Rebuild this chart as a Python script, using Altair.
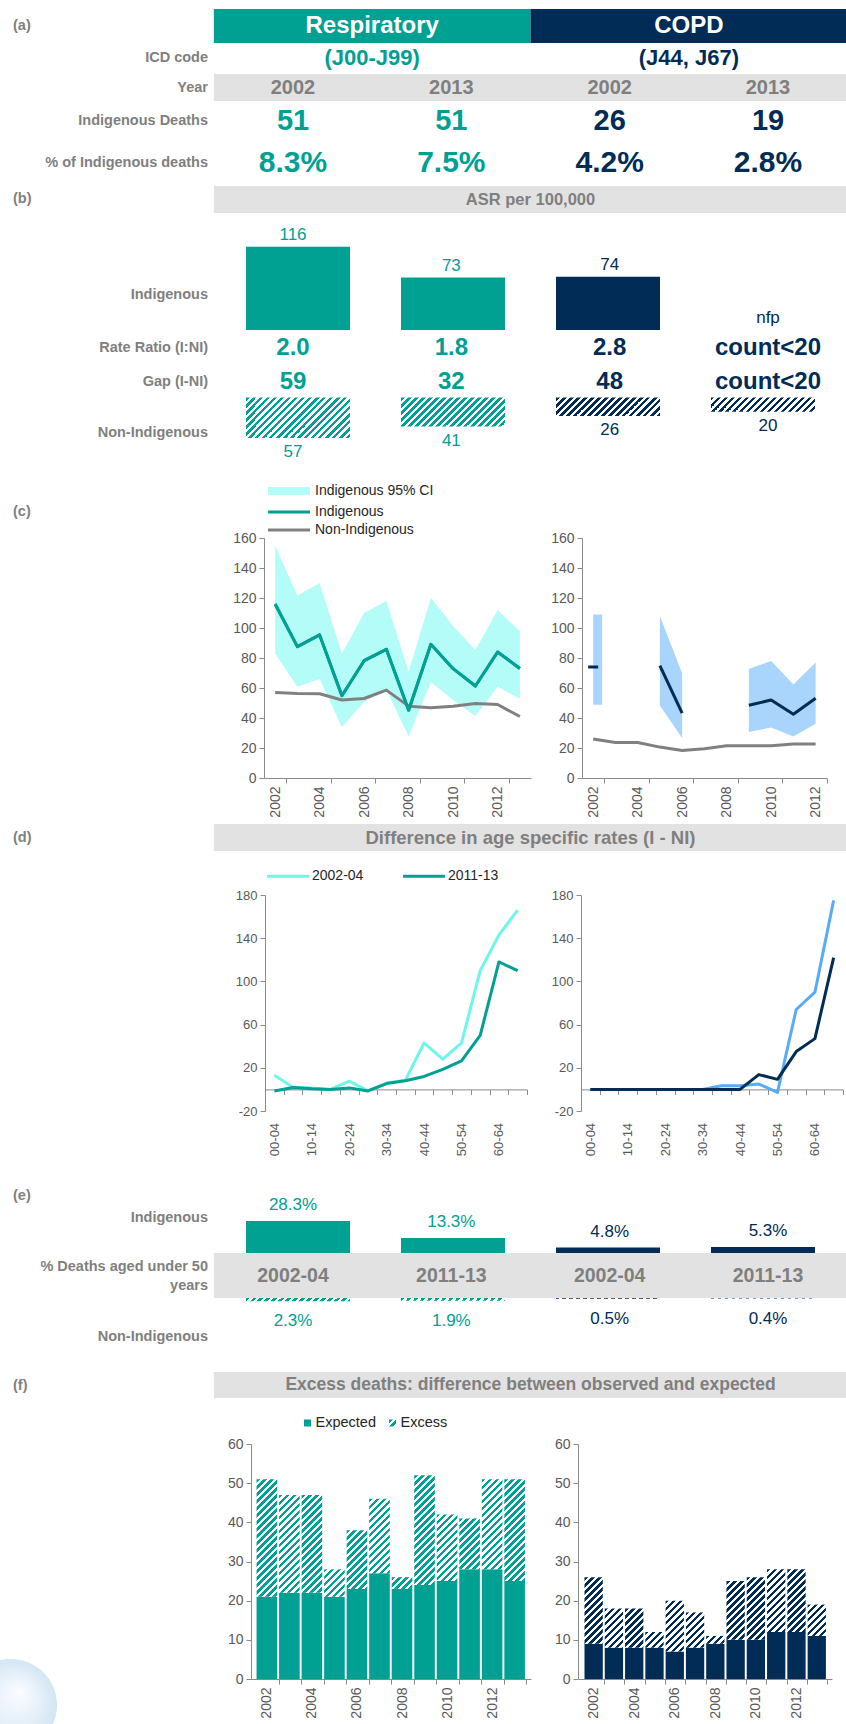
import json

import altair as alt
import pandas as pd

# ---------------------------------------------------------------- values
DISEASES = ["Respiratory", "COPD"]
ICD_CODES = ["(J00-J99)", "(J44, J67)"]
SNAPSHOT_YEARS = ["2002", "2013"]
INDIG_DEATHS = [51, 51, 26, 19]
PCT_INDIG_DEATHS = [8.3, 7.5, 4.2, 2.8]

ASR_INDIG = [116, 73, 74, None]          # COPD 2013: not for publication
ASR_NONINDIG = [57, 41, 26, 20]
RATE_RATIO = ["2.0", "1.8", "2.8", "count<20"]
RATE_GAP = ["59", "32", "48", "count<20"]

YEARS = list(range(2002, 2014))
RESP_IND = [116, 87.6, 95.4, 54.8, 78.2, 85.8, 45.2, 89.1, 72.9, 61.3, 84.0, 73]
RESP_IND_LO = [83.0, 60.8, 66.0, 34.0, 50.8, 58.6, 27.9, 64.0, 52.0, 41.4, 60.8, 52.8]
RESP_IND_HI = [155.0, 121.7, 130.0, 83.0, 110.0, 118.0, 71.0, 120.0, 101.4, 85.3, 112.0, 97.6]
RESP_NONIND = [57, 56.4, 56.2, 52.0, 53.0, 58.6, 47.9, 46.8, 47.9, 49.7, 49.0, 41]

COPD_YEARS = list(range(2002, 2013))
COPD_IND = [74, None, None, 74.9, 43.2, None, None, 48.5, 52.0, 42.5, 53.2]
COPD_IND_LO = [48.8, None, None, 48.3, 26.6, None, None, 30.6, 33.7, 27.7, 36.1]
COPD_IND_HI = [109.0, None, None, 108.0, 69.8, None, None, 72.7, 78.0, 62.3, 77.0]
COPD_NONIND = [26, 23.7, 23.7, 20.6, 18.4, 19.5, 21.5, 21.5, 21.5, 22.6, 22.6]

AGE_GROUPS = ["00-04", "05-09", "10-14", "15-19", "20-24", "25-29", "30-34",
              "35-39", "40-44", "45-49", "50-54", "55-59", "60-64", "65+"]
PERIODS = ["2002-04", "2011-13"]
RESP_GAP_0204 = [13.2, 2.0, 1.4, 0.0, 7.6, -1.4, 6.0, 8.5, 43.0, 28.0, 43.0, 110.0, 143.0, 166.0]
RESP_GAP_1113 = [-1.4, 1.7, 0.5, 0.0, 1.4, -1.4, 5.4, 8.0, 12.0, 18.5, 26.5, 50.0, 118.0, 110.0]
COPD_GAP_0204 = [0, 0, 0, 0, 0, 0, 0, 3.4, 3.4, 5.0, -2.8, 74.0, 90.0, 175.0]
COPD_GAP_1113 = [0, 0, 0, 0, 0, 0, 0, 0, 0, 13.7, 9.3, 35.0, 47.0, 122.0]

U50_INDIG = [28.3, 13.3, 4.8, 5.3]
U50_NONINDIG = [2.3, 1.9, 0.5, 0.4]

RESP_OBSERVED = [51, 47, 47, 28, 38, 46, 26, 52, 42, 41, 51, 51]
RESP_EXPECTED = [21, 22, 22, 21, 23, 27, 23, 24, 25, 28, 28, 25]
COPD_OBSERVED = [26, 18, 18, 12, 20, 17, 11, 25, 26, 28, 28, 19]
COPD_EXPECTED = [9, 8, 8, 8, 7, 8, 9, 10, 10, 12, 12, 11]

# ---------------------------------------------------------------- style / layout
W, H = 846, 1724
FONT = "Liberation Sans"
TEAL = "#00a092"
NAVY = "#002c55"
BAND_GREY = "#e2e2e2"
LABEL_GREY = "#7f7f7f"
AXIS_GREY = "#8a8a8a"
TICK_GREY = "#595959"
LEGEND_TXT = "#262626"
CI_RESP = "#b4fcf7"
CI_COPD = "#a9d5fd"
LIGHT_RESP = "#6ff6eb"
LIGHT_COPD = "#58abf7"
NONIND_GREY = "#808080"
HATCH_PERIOD = 7.0
ROW_LABEL_SIZE = 14.5

# legend swatches: 42 px wide drawn on an 18 px layout cell
SWATCH_SIZE = 18 * 18
SWATCH_HALF = 21 / 9
LINE_SYMBOL = f"M-{SWATCH_HALF},0L{SWATCH_HALF},0"
RECT_SYMBOL = (f"M-{SWATCH_HALF},-0.444L{SWATCH_HALF},-0.444L{SWATCH_HALF},0.444"
               f"L-{SWATCH_HALF},0.444Z")

ONE = pd.DataFrame({"k": [0]})


def lin(domain, rng):
    return alt.Scale(domain=domain, range=rng, nice=False, zero=False)


COLS = lin([0, 3], [293, 768])                     # the four table columns
DIS_COLOR = alt.Color("disease:N", scale=alt.Scale(domain=DISEASES, range=[TEAL, NAVY]),
                      legend=None)
HATCH_COLOR = f"datum.disease == 'COPD' ? '{NAVY}' : '{TEAL}'"


def hatch_fill(color_expr, w, period=HATCH_PERIOD, stripes=22):
    """Diagonal (45 degree) stripes as a hard-stop linear gradient in the mark's box.

    datum.hp holds the mark height in pixels, w its width."""
    s = f"({w}+datum.hp)"
    k = f"({s}/({w * w}+datum.hp*datum.hp))"
    stops = []
    for i in range(stripes):
        a = i * period
        b = a + period / 2
        c = a + period
        stops.append(f"{{'offset':min(1,{a}/{s}),'color':{color_expr}}}")
        stops.append(f"{{'offset':min(1,{b}/{s}),'color':{color_expr}}}")
        stops.append(f"{{'offset':min(1,{b}/{s}),'color':'#ffffff'}}")
        stops.append(f"{{'offset':min(1,{c}/{s}),'color':'#ffffff'}}")
    return ("{'gradient':'linear','x1':0,'y1':0,"
            f"'x2':{w}*{k},'y2':datum.hp*{k},'stops':[" + ",".join(stops) + "]}")


def x_col(field="col"):
    return alt.X(f"{field}:Q", scale=COLS, axis=None)


def y_axis(x_line, values, size=14):
    return alt.Axis(orient="left", offset=-x_line, values=values, title=None, grid=False,
                    domainColor=AXIS_GREY, tickColor=AXIS_GREY, tickSize=5, labelPadding=3,
                    labelColor=TICK_GREY, labelFontSize=size, labelFont=FONT,
                    labelExpr="'' + datum.value", labelFlush=False, labelOverlap=False)


def x_axis(y_line, values, step, label_expr, size=14, label_padding=3):
    return alt.Axis(orient="bottom", offset=y_line - H, values=values, title=None, grid=False,
                    domainColor=AXIS_GREY, tickColor=AXIS_GREY, tickSize=5,
                    tickOffset=step / 2, labelOffset=-step / 2, labelAngle=-90,
                    labelPadding=label_padding, labelColor=TICK_GREY, labelFontSize=size,
                    labelFont=FONT, labelExpr=label_expr, labelFlush=False,
                    labelOverlap=False, labelBound=False)


def legend(x, y, **kw):
    base = dict(orient="none", legendX=x, legendY=y, title=None, padding=0,
                labelFont=FONT, labelFontSize=14, labelColor=LEGEND_TXT,
                symbolSize=SWATCH_SIZE, symbolStrokeWidth=3, rowPadding=0)
    base.update(kw)
    return alt.Legend(**base)


layers = []


def add(c):
    layers.append(c)


def label(text, y, x=208, size=ROW_LABEL_SIZE, color=LABEL_GREY, weight="bold", align="right"):
    add(alt.Chart(pd.DataFrame({"t": [text]})).mark_text(
        font=FONT, fontSize=size, fontWeight=weight, color=color, align=align,
        baseline="middle").encode(x=alt.value(x), y=alt.value(y), text="t:N"))


def band(y0, y1):
    add(alt.Chart(ONE).mark_rect(color=BAND_GREY).encode(
        x=alt.XDatum(-0.5, type="quantitative", scale=COLS, axis=None),
        x2=alt.X2Datum(3.5), y=alt.value(y0), y2=alt.value(y1)))


def band_title(text, y, size):
    add(alt.Chart(pd.DataFrame({"t": [text]})).mark_text(
        font=FONT, fontSize=size, fontWeight="bold", color=LABEL_GREY).encode(
        x=alt.XDatum(1.5, type="quantitative", scale=COLS, axis=None),
        y=alt.value(y), text="t:N"))


table = pd.DataFrame({
    "col": list(range(4)),
    "disease": [d for d in DISEASES for _ in SNAPSHOT_YEARS],
    "year": SNAPSHOT_YEARS * len(DISEASES),
    "deaths": [str(v) for v in INDIG_DEATHS],
    "pct": [f"{v:.1f}%" for v in PCT_INDIG_DEATHS],
    "asr_i": ASR_INDIG,
    "asr_lbl": [str(v) if v is not None else "nfp" for v in ASR_INDIG],
    "asr_ni": ASR_NONINDIG,
    "rr": RATE_RATIO,
    "gap": RATE_GAP,
    "period": PERIODS * len(DISEASES),
    "u50_i": U50_INDIG,
    "u50_i_lbl": [f"{v:.1f}%" for v in U50_INDIG],
    "u50_ni": U50_NONINDIG,
    "u50_ni_lbl": [f"{v:.1f}%" for v in U50_NONINDIG],
})


def cells(field, y, size, weight="bold", color=None):
    enc = dict(x=x_col(), y=alt.value(y), text=f"{field}:N",
               color=alt.value(color) if color else DIS_COLOR)
    add(alt.Chart(table).mark_text(font=FONT, fontSize=size, fontWeight=weight,
                                   baseline="middle").encode(**enc))


# ---------------------------------------------------------------- (a) counts
label("(a)", 26, x=13, align="left")
heads = pd.DataFrame({"disease": DISEASES, "icd": ICD_CODES,
                      "mid": [2 * i + 0.5 for i in range(len(DISEASES))]})
add(alt.Chart(heads).transform_calculate(x0="datum.mid - 1", x1="datum.mid + 1")
    .mark_rect().encode(x=alt.X("x0:Q", scale=COLS, axis=None), x2="x1:Q",
                        y=alt.value(9), y2=alt.value(43), color=DIS_COLOR))
add(alt.Chart(heads).mark_text(font=FONT, fontSize=24, fontWeight="bold", color="white")
    .encode(x=x_col("mid"), y=alt.value(26), text="disease:N"))
add(alt.Chart(heads).mark_text(font=FONT, fontSize=22, fontWeight="bold")
    .encode(x=x_col("mid"), y=alt.value(58), text="icd:N", color=DIS_COLOR))
label("ICD code", 58)
band(74, 101)
label("Year", 88)
cells("year", 88, 20, color=LABEL_GREY)
label("Indigenous Deaths", 121)
cells("deaths", 121, 29)
label("% of Indigenous deaths", 163)
cells("pct", 163, 30)

# ---------------------------------------------------------------- (b) ASR
label("(b)", 199, x=13, align="left")
band(186, 213)
band_title("ASR per 100,000", 199.5, 16.5)
Y_B_IND = lin([0, 100], [330, 330 - 71.8])
add(alt.Chart(table).mark_bar(size=104).encode(
    x=x_col(), y=alt.Y("asr_i:Q", scale=Y_B_IND, axis=None), color=DIS_COLOR))
add(alt.Chart(table).transform_calculate(ly="isValid(datum.asr_i) ? datum.asr_i : 0")
    .mark_text(font=FONT, fontSize=17, dy=-12).encode(
    x=x_col(), y=alt.Y("ly:Q", scale=Y_B_IND, axis=None), text="asr_lbl:N", color=DIS_COLOR))
label("Indigenous", 295)
label("Rate Ratio (I:NI)", 348)
cells("rr", 348, 24)
label("Gap (I-NI)", 382)
cells("gap", 382, 24)
B_NI_PX = 0.71
Y_B_NI = lin([0, 100], [397.5, 397.5 + 100 * B_NI_PX])
add(alt.Chart(table).transform_calculate(hp=f"datum.asr_ni * {B_NI_PX}", hc=HATCH_COLOR)
    .mark_bar(size=104).encode(
    x=x_col(), y=alt.Y("asr_ni:Q", scale=Y_B_NI, axis=None),
    fill=alt.value({"expr": hatch_fill("datum.hc", 104)})))
add(alt.Chart(table).mark_text(font=FONT, fontSize=17, dy=14).encode(
    x=x_col(), y=alt.Y("asr_ni:Q", scale=Y_B_NI, axis=None), text="asr_ni:N", color=DIS_COLOR))
label("Non-Indigenous", 433)

# ---------------------------------------------------------------- (c) ASR over time
label("(c)", 512, x=13, align="left")
STEP_C = (531 - 264) / 12
XC_L = lin([2001.5, 2013.5], [264, 531])
XC_R = lin([2001.5, 2012.5], [582, 582 + 11 * STEP_C])
YC = lin([0, 160], [778, 538])
YEAR_TICKS = YEARS[::2]
YC_TICKS = list(range(0, 161, 20))
year_lbl = "'' + datum.value"

resp = pd.DataFrame({"year": YEARS, "ind": RESP_IND, "lo": RESP_IND_LO,
                     "hi": RESP_IND_HI, "ni": RESP_NONIND})
add(alt.Chart(resp).transform_calculate(band="'Indigenous 95% CI'").mark_area().encode(
    x=alt.X("year:Q", scale=XC_L, axis=x_axis(778, YEAR_TICKS, STEP_C, year_lbl)),
    y=alt.Y("lo:Q", scale=YC, axis=y_axis(264, YC_TICKS)),
    y2="hi:Q",
    color=alt.Color("band:N", scale=alt.Scale(range=[CI_RESP]),
                    legend=legend(280, 482, symbolType=RECT_SYMBOL, symbolStrokeWidth=0,
                                  labelOffset=17))))
resp_long = pd.DataFrame({
    "year": YEARS * 2,
    "series": ["Non-Indigenous"] * len(YEARS) + ["Indigenous"] * len(YEARS),
    "rate": RESP_NONIND + RESP_IND})
add(alt.Chart(resp_long).mark_line(strokeWidth=3, strokeJoin="round").encode(
    x=alt.X("year:Q", scale=XC_L, axis=None),
    y=alt.Y("rate:Q", scale=YC, axis=None),
    color=alt.Color("series:N", scale=alt.Scale(domain=["Indigenous", "Non-Indigenous"],
                                                range=[TEAL, NONIND_GREY]),
                    legend=legend(278.5, 501.5, symbolType=LINE_SYMBOL, labelOffset=15.5))))
add(alt.Chart(resp).mark_line(strokeWidth=3, strokeJoin="round", color=TEAL).encode(
    x=alt.X("year:Q", scale=XC_L, axis=None), y=alt.Y("ind:Q", scale=YC, axis=None)))

copd = pd.DataFrame({"year": COPD_YEARS, "ind": COPD_IND, "lo": COPD_IND_LO,
                     "hi": COPD_IND_HI, "ni": COPD_NONIND})
published = copd["ind"].notna()
copd["run"] = (published != published.shift()).cumsum()
copd["run_len"] = copd.groupby("run")["ind"].transform("count")
copd_runs = copd[published & (copd["run_len"] > 1)]
copd_single = copd[published & (copd["run_len"] == 1)]

add(alt.Chart(copd_runs).mark_area(color=CI_COPD).encode(
    x=alt.X("year:Q", scale=XC_R, axis=x_axis(778, YEAR_TICKS, STEP_C, year_lbl)),
    y=alt.Y("lo:Q", scale=YC, axis=y_axis(582, YC_TICKS)),
    y2="hi:Q", detail="run:N"))
add(alt.Chart(copd_single).mark_bar(size=9, color=CI_COPD).encode(
    x=alt.X("year:Q", scale=XC_R, axis=None),
    y=alt.Y("lo:Q", scale=YC, axis=None), y2="hi:Q"))
add(alt.Chart(copd).mark_line(strokeWidth=3, strokeJoin="round", color=NONIND_GREY).encode(
    x=alt.X("year:Q", scale=XC_R, axis=None), y=alt.Y("ni:Q", scale=YC, axis=None)))
add(alt.Chart(copd_runs).mark_line(strokeWidth=3, strokeJoin="round", color=NAVY).encode(
    x=alt.X("year:Q", scale=XC_R, axis=None), y=alt.Y("ind:Q", scale=YC, axis=None),
    detail="run:N"))
add(alt.Chart(copd_single).mark_tick(orient="horizontal", size=10, thickness=3,
                                     color=NAVY, opacity=1).encode(
    x=alt.X("year:Q", scale=XC_R, axis=None), y=alt.Y("ind:Q", scale=YC, axis=None)))

# ---------------------------------------------------------------- (d) age specific gap
label("(d)", 838, x=13, align="left")
band(824, 851)
band_title("Difference in age specific rates (I - NI)", 837.5, 18.5)
STEP_D = (527 - 265) / len(AGE_GROUPS)
XD_L = lin([-0.5, len(AGE_GROUPS) - 0.5], [265, 527])
XD_R = lin([-0.5, len(AGE_GROUPS) - 0.5], [581, 581 + 262])
YD = lin([-20, 180], [1111, 895])
YD_ZERO = 1111 - 20 * (1111 - 895) / 200
AGE_IDX = list(range(len(AGE_GROUPS)))
age_lbl = f"datum.value % 2 == 0 ? {json.dumps(AGE_GROUPS)}[datum.value] : ''"


def age_frame(early, late):
    return pd.DataFrame({"idx": AGE_IDX * 2,
                         "period": [p for p in PERIODS for _ in AGE_GROUPS],
                         "gap": list(early) + list(late)})


for frame, xs, y_line_x, colours, leg in [
        (age_frame(RESP_GAP_0204, RESP_GAP_1113), XD_L, 265, [LIGHT_RESP, TEAL],
         legend(277.5, 865.5, symbolType=LINE_SYMBOL, direction="horizontal",
                labelOffset=13.5, columnPadding=33)),
        (age_frame(COPD_GAP_0204, COPD_GAP_1113), XD_R, 581, [LIGHT_COPD, NAVY], None)]:
    add(alt.Chart(frame).mark_line(strokeWidth=3, strokeJoin="round").encode(
        x=alt.X("idx:Q", scale=xs,
                axis=x_axis(YD_ZERO, AGE_IDX, STEP_D, age_lbl, size=13, label_padding=28)),
        y=alt.Y("gap:Q", scale=YD, axis=y_axis(y_line_x, [-20, 20, 60, 100, 140, 180], size=13)),
        color=alt.Color("period:N", scale=alt.Scale(domain=PERIODS, range=colours),
                        legend=leg)))

# ---------------------------------------------------------------- (e) deaths under 50
label("(e)", 1196, x=13, align="left")
label("Indigenous", 1218)
Y_E_IND = lin([0, 10], [1253, 1253 - 11.3])
add(alt.Chart(table).mark_bar(size=104).encode(
    x=x_col(), y=alt.Y("u50_i:Q", scale=Y_E_IND, axis=None), color=DIS_COLOR))
add(alt.Chart(table).mark_text(font=FONT, fontSize=17, dy=-16).encode(
    x=x_col(), y=alt.Y("u50_i:Q", scale=Y_E_IND, axis=None), text="u50_i_lbl:N",
    color=DIS_COLOR))
band(1253, 1298)
label("% Deaths aged under 50", 1267)
label("years", 1286)
cells("period", 1276, 19.5, color=LABEL_GREY)
E_NI_PX = 1.4
Y_E_NI = lin([0, 10], [1298, 1298 + 10 * E_NI_PX])
add(alt.Chart(table).transform_calculate(hp=f"datum.u50_ni * {E_NI_PX}", hc=HATCH_COLOR)
    .mark_bar(size=104).encode(
    x=x_col(), y=alt.Y("u50_ni:Q", scale=Y_E_NI, axis=None),
    fill=alt.value({"expr": hatch_fill("datum.hc", 104)})))
add(alt.Chart(table).mark_text(font=FONT, fontSize=17, dy=20).encode(
    x=x_col(), y=alt.Y("u50_ni:Q", scale=Y_E_NI, axis=None), text="u50_ni_lbl:N",
    color=DIS_COLOR))
label("Non-Indigenous", 1337)

# ---------------------------------------------------------------- (f) excess deaths
label("(f)", 1386, x=13, align="left")
band(1372, 1398)
band_title("Excess deaths: difference between observed and expected", 1385, 17.5)

legend_items = pd.DataFrame({"item": ["Expected", "Excess"]})
X_LEG = alt.Scale(type="point", domain=["Expected", "Excess"], range=[307.5, 392.5], padding=0)
add(alt.Chart(legend_items).transform_calculate(hp="7").mark_square(size=49, opacity=1).encode(
    x=alt.X("item:N", scale=X_LEG, axis=None), y=alt.value(1423),
    fill=alt.value({"expr": f"datum.item == 'Excess' ? {hatch_fill(repr(TEAL), 7)} : '{TEAL}'"})))
add(alt.Chart(legend_items).mark_text(font=FONT, fontSize=14.5, align="left", dx=8,
                                      color=LEGEND_TXT).encode(
    x=alt.X("item:N", scale=X_LEG, axis=None), y=alt.value(1423), text="item:N"))

YF = lin([0, 60], [1679, 1444])
F_PX = (1679 - 1444) / 60
year_every_other = "datum.value % 2 == 0 ? '' + datum.value : ''"
for observed, expected, x0, x1, colour in [
        (RESP_OBSERVED, RESP_EXPECTED, 250.6, 530.9, TEAL),
        (COPD_OBSERVED, COPD_EXPECTED, 578.5, 831.9, NAVY)]:
    step = (x1 - x0) / len(YEARS)
    bar_w = round(step - 2.8, 1)
    xs = lin([2001.5, 2013.5], [x0, x1])
    deaths = pd.DataFrame({"year": YEARS, "observed": observed, "expected": expected})
    add(alt.Chart(deaths).mark_bar(size=bar_w, color=colour).encode(
        x=alt.X("year:Q", scale=xs, axis=x_axis(1679, YEARS, step, year_every_other)),
        y=alt.Y("expected:Q", scale=YF, axis=y_axis(round(x0), list(range(0, 61, 10))))))
    add(alt.Chart(deaths).transform_calculate(hp=f"(datum.observed - datum.expected) * {F_PX}")
        .mark_bar(size=bar_w).encode(
        x=alt.X("year:Q", scale=xs, axis=None),
        y=alt.Y("expected:Q", scale=YF, axis=None), y2="observed:Q",
        fill=alt.value({"expr": hatch_fill(repr(colour), bar_w)})))

# faint circular emblem in the lower left corner
add(alt.Chart(ONE).mark_circle(size=92 * 92, opacity=1).encode(
    x=alt.value(11), y=alt.value(1705),
    fill=alt.value({"gradient": "radial", "x1": 0.6, "y1": 0.35, "r1": 0,
                    "x2": 0.5, "y2": 0.5, "r2": 0.5,
                    "stops": [{"offset": 0, "color": "#fbfdff"},
                              {"offset": 1, "color": "#d3e5f4"}]})))

# ---------------------------------------------------------------- assemble
chart = (
    alt.layer(*layers)
    .resolve_scale(x="independent", y="independent", color="independent")
    .resolve_axis(x="independent", y="independent")
    .resolve_legend(color="independent")
    .properties(width=W, height=H, autosize=alt.AutoSizeParams(type="none"),
                padding=0, background="#ffffff")
    .configure_view(stroke=None)
    .configure_text(font=FONT)
    .configure_axis(labelFont=FONT)
    .configure_legend(labelFont=FONT)
)

chart.save("out.html", embed_options={"renderer": "svg", "actions": False})
